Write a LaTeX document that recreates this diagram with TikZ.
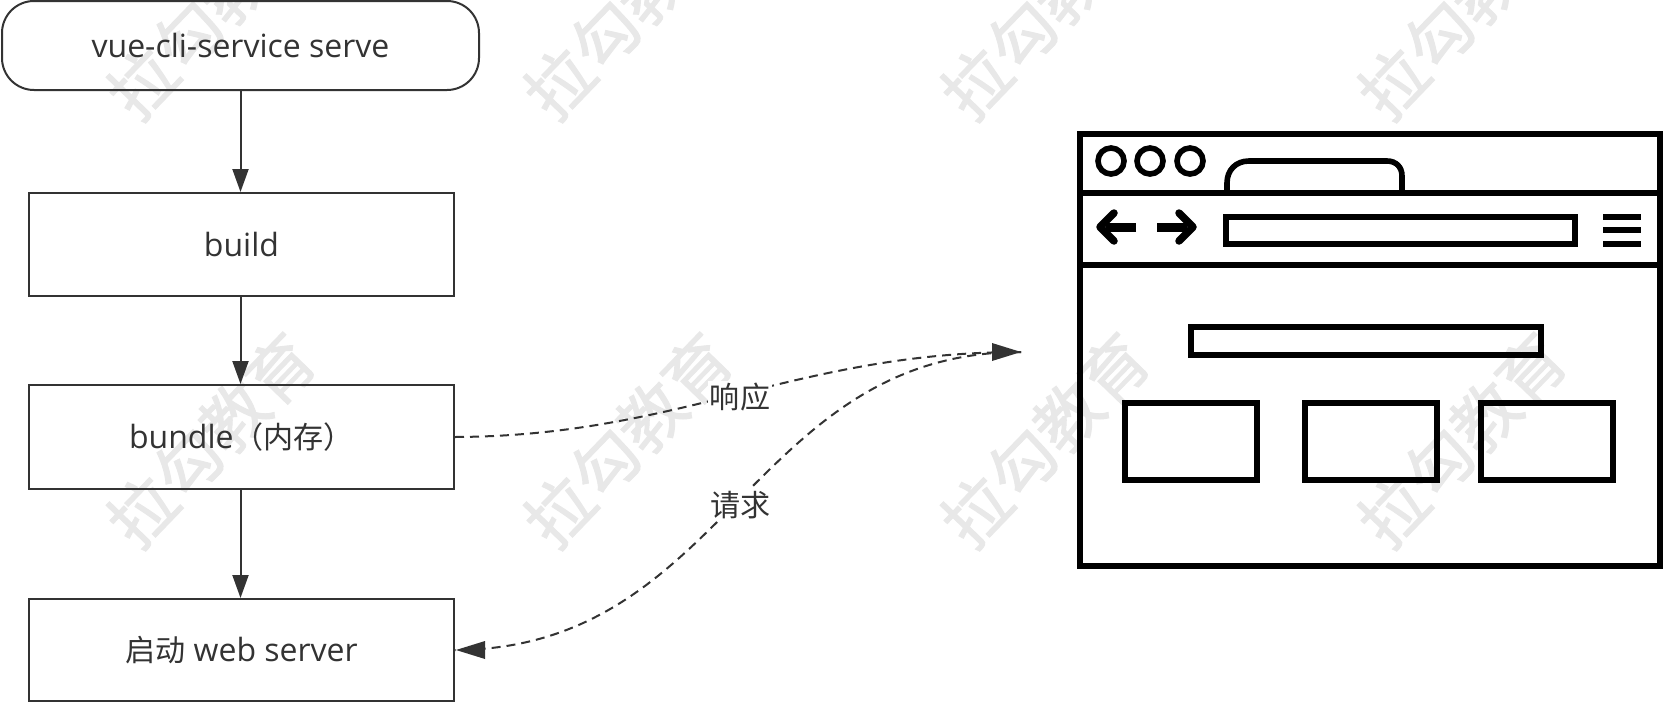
\documentclass[tikz,border=0pt]{standalone}
\usepackage{fontspec}
\usetikzlibrary{arrows.meta}
\setmainfont{Open Sans}
\newfontfamily\cjk[Scale=0.94]{Noto Sans CJK SC}
\newfontfamily\wmfont[Scale=0.94,FakeBold=1.5]{Noto Sans CJK SC}
\definecolor{ink}{HTML}{333333}
\definecolor{wm}{HTML}{E8E8E8}
\tikzset{
  flowbox/.style={draw=ink,line width=2pt,minimum width=425pt,text=ink,inner sep=0pt,font=\fontsize{32}{38}\selectfont},
  flowlink/.style={draw=ink,line width=2pt,-{Triangle[length=23pt,width=16pt]}},
  dashlink/.style={draw=ink,line width=2pt,dash pattern=on 9pt off 6pt},
  linklabel/.style={fill=white,text=ink,inner sep=2pt,font=\fontsize{32}{38}\selectfont\cjk},
  mark wm/.style={text=wm,rotate=46,inner sep=0pt,font=\fontsize{70}{74}\selectfont\wmfont},
  browserline/.style={draw=black,line width=5.6pt},
}
\begin{document}
\begin{tikzpicture}[x=1pt,y=-1pt]
\path[use as bounding box,fill=white] (0,0) rectangle (1665,704);
\clip (0,0) rectangle (1665,704);
% watermark
\foreach \wx in {211,628,1045,1462}{
  \foreach \wy in {12,440}{
    \node[mark wm] at (\wx,\wy) {拉勾教育};
  }
}
% flow
\node[flowbox,minimum width=477pt,minimum height=89pt,rounded corners=32pt] (serve) at (240.5,45.5) {vue-cli-service serve};
\node[flowbox,minimum height=103pt] (build) at (241.5,244.5) {build};
\node[flowbox,minimum height=104pt] (bundle) at (241.5,437) {bundle{\cjk（内存）}};
\node[flowbox,minimum height=102pt] (web) at (241.5,650) {{\cjk 启动} web server};
\coordinate (tip) at (1021,352);
\draw[flowlink] (serve.south) -- (serve.south |- build.north);
\draw[flowlink] (serve.south |- build.south) -- (serve.south |- bundle.north);
\draw[flowlink] (serve.south |- bundle.south) -- (serve.south |- web.north);
\draw[dashlink] (tip) .. controls (750,352) and (727,649) .. node[linklabel,pos=.5,yshift=-4pt,xshift=2pt] (req) {请求} (web.east);
\path[fill=ink] (web.east) ++(1,0) -- ++(29,-9) -- ++(0,18) -- cycle;
\draw[dashlink] (bundle.east) .. controls (680,436) and (796,352) .. node[linklabel,pos=.5,yshift=-3pt,xshift=2pt] (resp) {响应} (tip);
\path[fill=ink] (tip) -- ++(-29,-9) -- ++(0,18) -- cycle;
% browser
\draw[browserline] (1080,134) rectangle (1660,566);
\draw[browserline] (1080,193) -- (1660,193);
\draw[browserline] (1080,265) -- (1660,265);
\foreach \cx in {1111,1150,1190}{\draw[browserline] (\cx,161) circle (13pt);}
\draw[browserline] (1227,193) -- (1227,183) .. controls (1227,170) and (1236,161) .. (1249,161) -- (1387,161) .. controls (1396,161) and (1402,167) .. (1402,176) -- (1402,193);
\draw[browserline] (1226,217) rectangle (1575,244);
\foreach \my in {217,230,244}{\draw[draw=black,line width=6.5pt] (1603,\my) -- (1641,\my);}
\draw[draw=black,line width=9pt] (1136,227) -- (1106,227);
\draw[draw=black,line width=7.5pt,line join=round,line cap=round] (1114,213) -- (1100,227) -- (1114,241);
\draw[draw=black,line width=9pt] (1157,227) -- (1187,227);
\draw[draw=black,line width=7.5pt,line join=round,line cap=round] (1179,213) -- (1193,227) -- (1179,241);
\draw[browserline] (1191,327) rectangle (1541,355);
\draw[browserline] (1125,403) rectangle (1257,480);
\draw[browserline] (1305,403) rectangle (1437,480);
\draw[browserline] (1481,403) rectangle (1613,480);
\end{tikzpicture}
\end{document}
